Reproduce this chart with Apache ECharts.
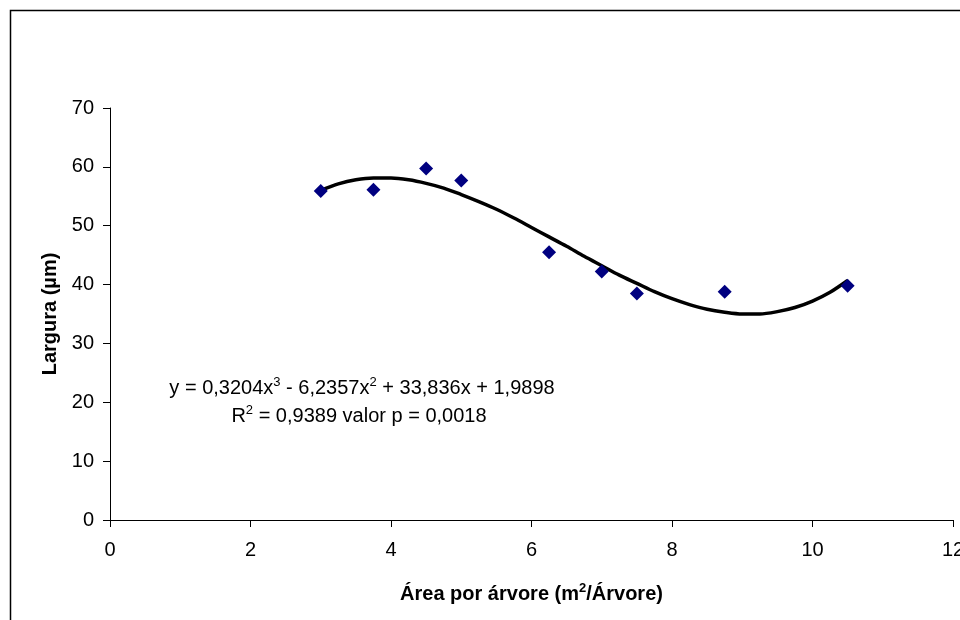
<!DOCTYPE html>
<html>
<head>
<meta charset="utf-8">
<script src="https://cdn.jsdelivr.net/npm/echarts@6/dist/echarts.min.js"></script>
<style>
html,body{margin:0;padding:0;background:#fff;}
#chart{width:960px;height:620px;}
</style>
</head>
<body>
<div id="chart"></div>
<script>
// Observed points
var areaValues = [3, 3.75, 4.5, 5, 6.25, 7, 7.5, 8.75, 10.5];
var larguraValues = [55.9, 56.1, 59.7, 57.7, 45.5, 42.2, 38.5, 38.8, 39.8];
// Trend curve readings
var trendX = [3, 3.25, 3.5, 3.75, 4, 4.25, 4.5, 4.75, 5, 5.25, 5.5, 5.75, 6, 6.25, 6.5, 6.75,
              7, 7.25, 7.5, 7.75, 8, 8.25, 8.5, 8.75, 9, 9.25, 9.5, 9.75, 10, 10.25, 10.5];
var trendY = [56.0, 57.1, 57.8, 58.1, 58.1, 57.8, 57.2, 56.4, 55.3, 54.1, 52.8, 51.3, 49.7, 48.1, 46.5, 44.8,
              43.2, 41.6, 40.2, 38.8, 37.6, 36.6, 35.8, 35.3, 35.0, 35.0, 35.4, 36.1, 37.2, 38.7, 40.7];
var xTicks = [0, 2, 4, 6, 8, 10, 12];
var yTicks = [0, 10, 20, 30, 40, 50, 60, 70];

var FONT = '"Liberation Sans", Arial, sans-serif';

var chart = echarts.init(document.getElementById('chart'), null, {renderer: 'canvas'});

var scatterData = areaValues.map(function (x, i) { return [x, larguraValues[i]]; });
var trendData = trendX.map(function (x, i) { return [x, trendY[i]]; });

var option = {
  backgroundColor: '#ffffff',
  animation: false,
  grid: {left: 110, right: 7, top: 108, bottom: 100, containLabel: false, outerBoundsMode: 'none'},
  xAxis: {
    type: 'value',
    min: xTicks[0],
    max: xTicks[xTicks.length - 1],
    interval: 2,
    name: '{b|Área por árvore (m}{sup|2}{b|/Árvore)}',
    nameLocation: 'middle',
    nameGap: 62,
    nameTextStyle: {
      rich: {
        b: {fontFamily: FONT, fontSize: 20, fontWeight: 'bold', color: '#000', lineHeight: 24},
        sup: {fontFamily: FONT, fontSize: 13, fontWeight: 'bold', color: '#000', verticalAlign: 'top', lineHeight: 24}
      }
    },
    axisLine: {show: true, lineStyle: {color: '#000', width: 1}},
    axisTick: {show: true, inside: false, length: 7, lineStyle: {color: '#000', width: 1}},
    axisLabel: {fontFamily: FONT, fontSize: 20, color: '#000', margin: 20, showMaxLabel: true},
    splitLine: {show: false}
  },
  yAxis: {
    type: 'value',
    min: yTicks[0],
    max: yTicks[yTicks.length - 1],
    interval: 10,
    name: 'Largura (µm)',
    nameLocation: 'middle',
    nameGap: 50,
    nameRotate: 90,
    nameTextStyle: {fontFamily: FONT, fontSize: 20, fontWeight: 'bold', color: '#000'},
    axisLine: {show: true, lineStyle: {color: '#000', width: 1}},
    axisTick: {show: true, inside: false, length: 7, lineStyle: {color: '#000', width: 1}},
    axisLabel: {fontFamily: FONT, fontSize: 20, color: '#000', margin: 16},
    splitLine: {show: false}
  },
  series: [
    {
      type: 'line',
      data: trendData,
      smooth: 0.3,
      showSymbol: false,
      symbol: 'none',
      lineStyle: {color: '#000', width: 3.5},
      z: 2
    },
    {
      type: 'scatter',
      data: scatterData,
      symbol: 'diamond',
      symbolSize: 14,
      itemStyle: {color: '#000080', opacity: 1},
      z: 3
    }
  ],
  graphic: [
    {
      type: 'rect',
      shape: {x: 10.5, y: 10.5, width: 980, height: 640},
      style: {fill: 'none', stroke: '#000', lineWidth: 1.5},
      silent: true
    },
    {
      type: 'text',
      x: 362, y: 388,
      style: {
        text: '{n|y = 0,3204x}{s|3}{n| - 6,2357x}{s|2}{n| + 33,836x + 1,9898}',
        align: 'center', verticalAlign: 'middle',
        rich: {
          n: {fontFamily: FONT, fontSize: 20, fill: '#000', lineHeight: 24},
          s: {fontFamily: FONT, fontSize: 13, fill: '#000', verticalAlign: 'top', lineHeight: 24}
        }
      }
    },
    {
      type: 'text',
      x: 359, y: 416,
      style: {
        text: '{n|R}{s|2}{n| = 0,9389 valor p = 0,0018}',
        align: 'center', verticalAlign: 'middle',
        rich: {
          n: {fontFamily: FONT, fontSize: 20, fill: '#000', lineHeight: 24},
          s: {fontFamily: FONT, fontSize: 13, fill: '#000', verticalAlign: 'top', lineHeight: 24}
        }
      }
    }
  ]
};
chart.setOption(option);
</script>
</body>
</html>
